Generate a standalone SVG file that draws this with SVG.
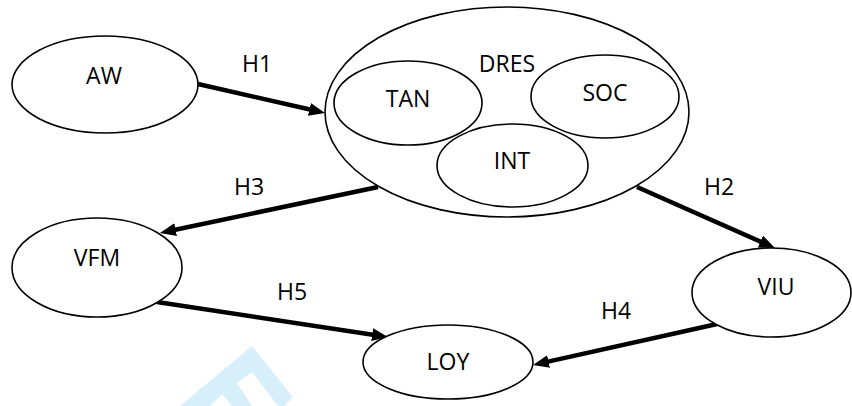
<svg xmlns="http://www.w3.org/2000/svg" width="852" height="406" viewBox="0 0 852 406">
<style>
.n{fill:#fff;stroke:#000;stroke-width:1.6}
.t{font-family:"Open Sans","Liberation Sans",sans-serif;font-size:23px;fill:#000;text-anchor:middle}
.e{stroke:#000;stroke-width:4.5;fill:none;marker-end:url(#ah)}
</style>
<defs>
<marker id="ah" markerUnits="userSpaceOnUse" markerWidth="18" markerHeight="14" refX="4" refY="6.5" orient="auto" viewBox="0 0 18 14">
<path d="M0,0 L16,6.5 L0,13 z" fill="#000"/>
</marker>
</defs>
<rect width="852" height="406" fill="#fff"/>
<polygon points="180,406 252,346 293,397 284,406 278,406 252,372 237,383 252,406 232,406 222,394 210,406" fill="#d6effb"/>
<g id="connectors">
<line class="e" x1="198" y1="84" x2="313.3" y2="110.3"/>
<line class="e" x1="378" y1="187" x2="171.7" y2="230.5"/>
<line class="e" x1="637" y1="187" x2="764" y2="243.2"/>
<line class="e" x1="717" y1="324" x2="544.7" y2="362.4"/>
<line class="e" x1="157" y1="302" x2="376.1" y2="335.2"/>
<text class="t" x="257" y="72">H1</text>
<text class="t" x="719" y="195">H2</text>
<text class="t" x="249" y="195">H3</text>
<text class="t" x="616" y="319">H4</text>
<text class="t" x="292" y="300">H5</text>
</g>
<g id="AW"><ellipse class="n" cx="105" cy="84.5" rx="93" ry="48.5"/><text class="t" x="104" y="84">AW</text></g>
<g id="DRES"><ellipse class="n" cx="507" cy="112" rx="182" ry="105"/><text class="t" x="507" y="72">DRES</text></g>
<g id="TAN"><ellipse class="n" cx="408" cy="103" rx="74" ry="42"/><text class="t" x="408" y="107">TAN</text></g>
<g id="SOC"><ellipse class="n" cx="605" cy="96.5" rx="74" ry="41.5"/><text class="t" x="605" y="101">SOC</text></g>
<g id="INT"><ellipse class="n" cx="512.5" cy="165.5" rx="75.5" ry="41.5"/><text class="t" x="512" y="169">INT</text></g>
<g id="VFM"><ellipse class="n" cx="97" cy="267.5" rx="85" ry="49.5"/><text class="t" x="97" y="266">VFM</text></g>
<g id="VIU"><ellipse class="n" cx="771.5" cy="292.5" rx="79.5" ry="44.5"/><text class="t" x="776" y="295">VIU</text></g>
<g id="LOY"><ellipse class="n" cx="448" cy="362" rx="85" ry="37"/><text class="t" x="448" y="370">LOY</text></g>
</svg>
